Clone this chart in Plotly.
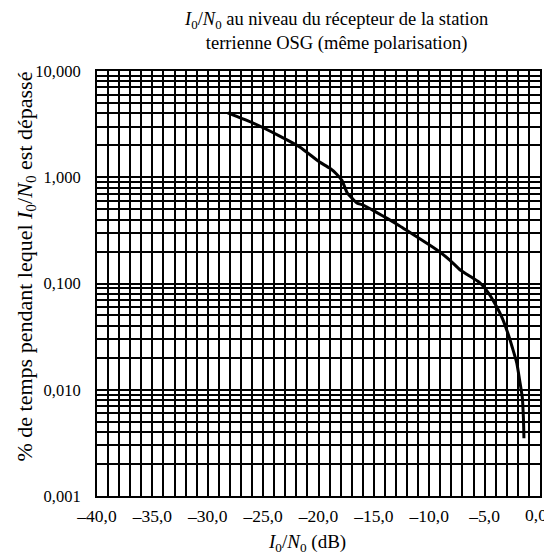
import plotly.graph_objects as go

# Data
io_no_db = [-28.2, -25.8, -23.5, -21.7, -19.9, -19.0, -18.4, -17.9, -17.4, -17.0,
            -16.5, -16.0, -14.8, -13.8, -12.7, -11.7, -10.5, -9.3, -8.2, -7.2,
            -6.1, -5.4, -4.6, -3.9, -3.4, -2.9, -2.5, -2.1, -1.85, -1.6, -1.5, -1.45]
pct_time = [4.03, 3.2, 2.44, 1.93, 1.39, 1.22, 1.08, 0.94, 0.71, 0.64,
            0.57, 0.55, 0.47, 0.41, 0.35, 0.30, 0.25, 0.207, 0.168, 0.134,
            0.113, 0.101, 0.080, 0.060, 0.047, 0.034, 0.025, 0.0179, 0.0125, 0.0085, 0.0055, 0.0035]

x_tick_vals = [-40, -35, -30, -25, -20, -15, -10, -5, 0]
x_tick_text = ["–40,0", "–35,0", "–30,0", "–25,0", "–20,0", "–15,0", "–10,0", "–5,0", "0,0"]
y_decades = [0.001, 0.01, 0.1, 1, 10]
y_decade_text = ["0,001", "0,010", "0,100", "1,000", "10,000"]

# gridline positions for log axis (1..9 per decade)
y_grid_vals = []
y_grid_text = []
for i, d in enumerate(y_decades):
    steps = range(1, 10) if i < len(y_decades) - 1 else [1]
    for m in steps:
        y_grid_vals.append(d * m)
        y_grid_text.append(y_decade_text[i] if m == 1 else "")

FONT = "Liberation Serif, Times New Roman, serif"

fig = go.Figure()
fig.add_trace(go.Scatter(
    x=io_no_db, y=pct_time, mode="lines",
    line=dict(color="black", width=3, shape="spline", smoothing=0.6),
    showlegend=False, hoverinfo="skip"))

# page body has an 8px default margin, so the figure is drawn 8px smaller
fig.update_layout(
    width=544, height=548,
    margin=dict(l=89, r=12, t=63, b=60, autoexpand=False),
    paper_bgcolor="white", plot_bgcolor="white",
    font=dict(family=FONT, size=17, color="black"),
)
# chart title
fig.add_annotation(
    text="<i>I</i><sub>0</sub>/<i>N</i><sub>0</sub> au niveau du récepteur de la station<br>terrienne OSG (même polarisation)",
    xref="paper", yref="paper", x=0.5, y=1, xanchor="center", yanchor="bottom", yshift=15, xshift=17,
    showarrow=False, align="center", font=dict(family=FONT, size=18.5, color="black"))
# x-axis title
fig.add_annotation(
    text="<i>I</i><sub>0</sub>/<i>N</i><sub>0</sub> (dB)",
    xref="paper", yref="paper", x=0.5, y=0, xanchor="center", yanchor="top", yshift=-33, xshift=-12,
    showarrow=False, font=dict(family=FONT, size=19, color="black"))
# y-axis title
fig.add_annotation(
    text="% de temps pendant lequel <i>I</i><sub>0</sub>/<i>N</i><sub>0</sub> est dépassé",
    xref="paper", yref="paper", x=0, y=0.5, xanchor="center", yanchor="middle", xshift=-72, yshift=17,
    textangle=-90, showarrow=False, font=dict(family=FONT, size=22, color="black"))
# last x tick label, nudged inside the page like in the reference
fig.add_annotation(
    text=x_tick_text[-1], xref="x", yref="paper", x=x_tick_vals[-1], y=0,
    xanchor="center", yanchor="middle", xshift=-4, yshift=-19,
    showarrow=False, font=dict(family=FONT, size=17.5, color="black"))

fig.update_xaxes(
    range=[-40, 0], tickmode="array", tickvals=x_tick_vals,
    ticktext=x_tick_text[:-1] + [""],
    showgrid=True, gridcolor="black", gridwidth=1.5, automargin=False,
    minor=dict(dtick=1, tick0=0, showgrid=True, gridcolor="black", gridwidth=1.5, ticks=""),
    showline=True, linecolor="black", linewidth=2, mirror=True, ticks="",
    zeroline=False, tickfont=dict(family=FONT, size=17.5), ticklabelstandoff=3,
)
fig.update_yaxes(
    type="log", range=[-3, 1], tickmode="array", tickvals=y_grid_vals, ticktext=y_grid_text,
    showgrid=True, gridcolor="black", gridwidth=1.5, automargin=False,
    showline=True, linecolor="black", linewidth=2, mirror=True, ticks="",
    zeroline=False, tickfont=dict(family=FONT, size=16.5), ticklabelstandoff=11,
)

fig.write_html("out.html")
